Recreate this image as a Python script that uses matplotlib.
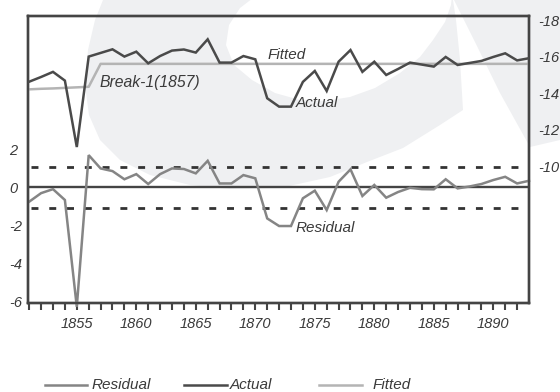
import matplotlib
matplotlib.use("Agg")
import matplotlib.pyplot as plt
from matplotlib.patches import Polygon
from matplotlib.lines import Line2D
from matplotlib.transforms import IdentityTransform
from matplotlib.ticker import FixedLocator, FixedFormatter

plt.rcParams['font.family'] = ['Liberation Sans', 'DejaVu Sans']
plt.rcParams['font.style'] = 'italic'

# ---------------- data ----------------
years = list(range(1851, 1894))
actual = [14.64, 14.90, 15.18, 14.70, 11.05, 16.02, 16.22, 16.42, 16.02, 16.29,
          15.65, 16.05, 16.35, 16.41, 16.24, 16.97, 15.69, 15.69, 16.05, 15.87,
          13.73, 13.27, 13.27, 14.63, 15.23, 14.13, 15.74, 16.38, 15.18, 15.74,
          15.01, 15.34, 15.69, 15.58, 15.47, 16.00, 15.56, 15.67, 15.78, 16.00,
          16.20, 15.81, 15.93]
fitted = [14.22, 14.25, 14.27, 14.30, 14.33, 14.36, 15.62, 15.62, 15.62, 15.62,
          15.62, 15.62, 15.62, 15.62, 15.62, 15.62, 15.62, 15.62, 15.62, 15.62,
          15.62, 15.62, 15.62, 15.62, 15.62, 15.62, 15.62, 15.62, 15.62, 15.62,
          15.62, 15.62, 15.62, 15.62, 15.62, 15.62, 15.62, 15.62, 15.62, 15.62,
          15.62, 15.62, 15.62]
residual = [-0.77, -0.32, -0.11, -0.68, -6.30, 1.68, 0.98, 0.84, 0.41, 0.68,
            0.16, 0.68, 0.98, 0.95, 0.72, 1.38, 0.19, 0.19, 0.63, 0.46,
            -1.65, -2.05, -2.05, -0.59, -0.19, -1.21, 0.28, 0.93, -0.47, 0.11,
            -0.56, -0.26, -0.04, -0.11, -0.12, 0.41, -0.07, 0.03, 0.16, 0.37,
            0.54, 0.19, 0.33]
std_band = 1.08
left_ticks = [-6, -4, -2, 0, 2]
left_labels = ["-6", "-4", "-2", "0", "2"]
right_ticks = [10, 12, 14, 16, 18]
right_labels = ["-10", "-12", "-14", "-16", "-18"]
year_labels = [1855, 1860, 1865, 1870, 1875, 1880, 1885, 1890]

# ---------------- style ----------------
C_ACT = "#4a4a4a"
C_RES = "#858585"
C_FIT = "#b4b4b4"
C_AX = "#444444"
C_TXT = "#3a3a3a"
C_WM = "#eff0f2"

W, H = 560, 392
fig = plt.figure(figsize=(W / 100, H / 100), dpi=100)
fig.patch.set_facecolor("white")

def px(points):
    return [(x, H - y) for x, y in points]

# watermark shapes (pixel coordinates)
crescent = [(103, 0), (453, 0), (456, 20), (460, 60), (463, 110), (440, 125), (403, 148),
            (367, 162), (330, 177), (280, 188), (230, 189), (190, 185), (150, 175),
            (120, 160), (100, 140), (89, 115), (85, 85), (88, 50), (95, 20)]
inner = [(257, -5), (240, 8), (229, 25), (226, 45), (234, 65), (252, 80), (275, 93),
         (300, 100), (325, 101), (350, 97), (375, 88), (400, 73), (420, 57), (433, 40),
         (445, 22), (451, 5), (452, -5)]
tri = [(454, 0), (475, 42), (500, 93), (530, 147), (560, 140), (560, 0)]
for pts, col in [(crescent, C_WM), (inner, "white"), (tri, C_WM)]:
    fig.add_artist(Polygon(px(pts), closed=True, facecolor=col, edgecolor="none",
                           transform=IdentityTransform(), zorder=-5))

ax = fig.add_axes([28 / W, 1 - 303 / H, 501 / W, 287 / H])
ax.set_facecolor("none")
ax2 = ax.twinx()
ax2.set_facecolor("none")

ax.set_xlim(1850.9, 1893.0)
ax.set_ylim(-6.1, 9.0)
ax2.set_ylim(2.48, 18.25)

# reference lines
ax.axhline(0, color=C_AX, lw=1.7, zorder=2)
ax.axhline(std_band, color="#333333", lw=2.0, ls=(0, (2.5, 3.9)), xmin=0.005, xmax=0.99, zorder=2)
ax.axhline(-std_band, color="#333333", lw=2.0, ls=(0, (2.5, 3.9)), xmin=0.005, xmax=0.99, zorder=2)

# series
res_line, = ax.plot(years, residual, color=C_RES, lw=1.8, clip_on=False, zorder=3,
                    solid_joinstyle="miter")
act_line, = ax2.plot(years, actual, color=C_ACT, lw=1.8, zorder=3, solid_joinstyle="miter")
fit_line, = ax2.plot(years, fitted, color=C_FIT, lw=1.8, zorder=2)

# spines
for a in (ax, ax2):
    for s in a.spines.values():
        s.set_color(C_AX)
        s.set_linewidth(1.7)

# x ticks
ax.xaxis.set_major_locator(FixedLocator(years[:-1]))
ax.xaxis.set_major_formatter(FixedFormatter([str(y) if y in year_labels else "" for y in years[:-1]]))
ax.tick_params(axis="x", direction="out", length=5, width=1.5, color=C_AX,
               labelsize=10.5, labelcolor=C_TXT, pad=5)

# left y ticks
ax.yaxis.set_major_locator(FixedLocator(left_ticks))
ax.yaxis.set_major_formatter(FixedFormatter(left_labels))
ax.tick_params(axis="y", length=0, labelsize=10.5, labelcolor=C_TXT, pad=13.5)
for t in ax.get_yticklabels():
    t.set_horizontalalignment("left")

# right y ticks
ax2.yaxis.set_major_locator(FixedLocator(right_ticks))
ax2.yaxis.set_major_formatter(FixedFormatter(right_labels))
ax2.tick_params(axis="y", length=0, labelsize=10.5, labelcolor=C_TXT, pad=6.5)

# annotations
ax2.text(1871.0, 16.11, "Fitted", fontsize=11, color=C_TXT, ha="left", va="center")
ax2.text(1856.9, 14.57, "Break-1(1857)", fontsize=11.3, color=C_TXT, ha="left", va="center")
ax2.text(1873.4, 13.47, "Actual", fontsize=11, color=C_TXT, ha="left", va="center")
ax.text(1873.4, -2.16, "Residual", fontsize=11, color=C_TXT, ha="left", va="center")

# legend (manual placement)
leg = [(45, 87, 92, "Residual", C_RES), (184, 227, 230, "Actual", C_ACT),
       (319, 362, 373, "Fitted", C_FIT)]
for x0, x1, xt, lab, col in leg:
    fig.add_artist(Line2D([x0, x1], [H - 385, H - 385], color=col, lw=1.8,
                          transform=IdentityTransform()))
    fig.text(xt / W, 1 - 385 / H, lab, fontsize=11, color=C_TXT, ha="left", va="center")

fig.savefig("out.png", dpi=100)
